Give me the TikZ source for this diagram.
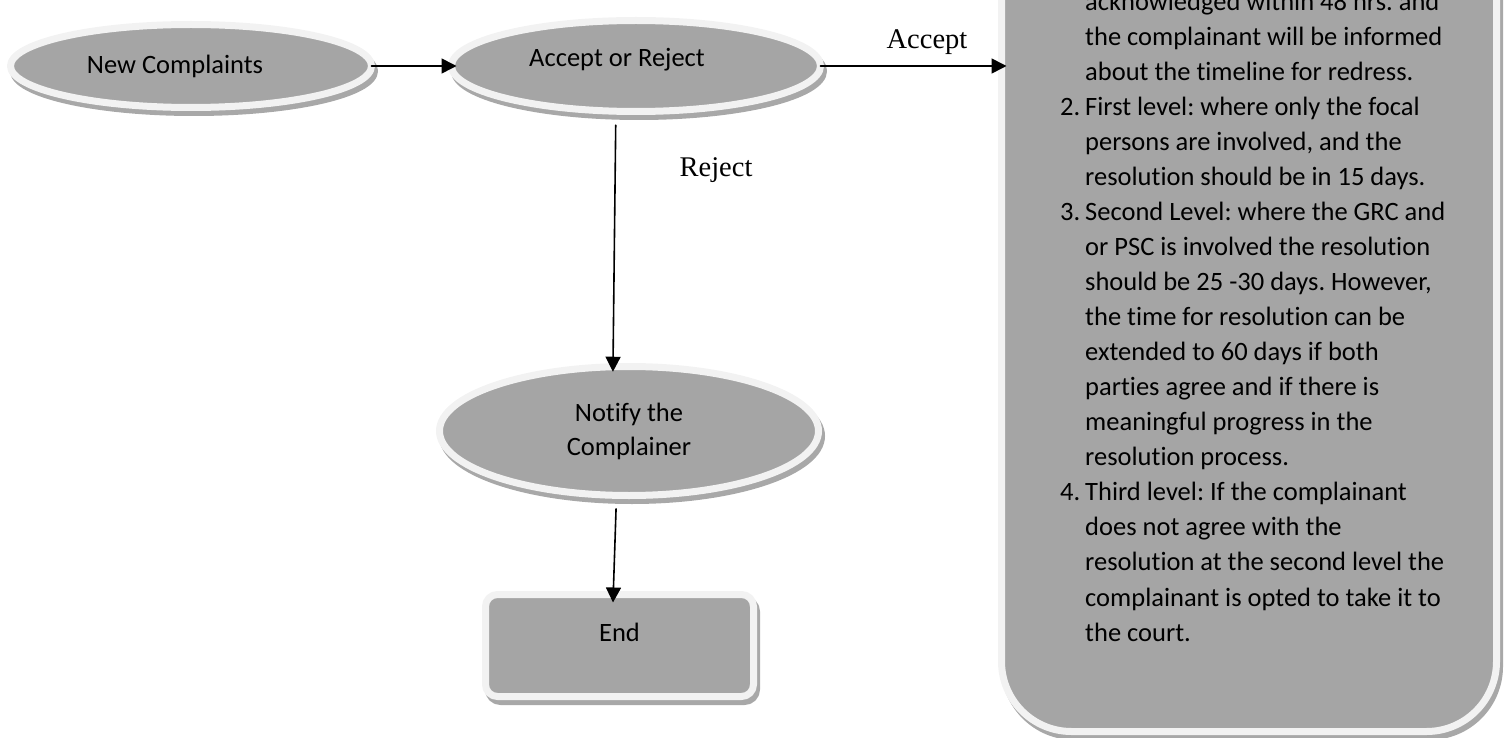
\documentclass[tikz,border=0pt]{standalone}
\usepackage{fontspec}
\setmainfont{Carlito}[Ligatures=NoCommon]
\newfontfamily\timesfont{Liberation Serif}
\usepackage{tikz}
\usetikzlibrary{shapes.geometric}
\usetikzlibrary{shadows}
\usetikzlibrary{arrows.meta}
\definecolor{flgray}{rgb}{0.647,0.647,0.647}
\definecolor{rmgray}{rgb}{0.949,0.949,0.949}
\definecolor{shgray}{rgb}{0.66,0.66,0.66}
\tikzstyle{every node}=[font=\fontsize{26.5}{34}\selectfont]
\tikzstyle{bevel}=[draw=rmgray,line width=7pt,fill=flgray,outer sep=0pt,inner sep=0pt,drop shadow={shadow xshift=3pt,shadow yshift=-5pt,fill=shgray,draw=shgray,line width=7pt,opacity=1}]
\tikzstyle{oval}=[bevel,ellipse]
\tikzstyle{endbox}=[bevel,rectangle,rounded corners=12pt]
\tikzstyle{stepsbox}=[bevel,rectangle,rounded corners=70pt]
\tikzstyle{arrowlbl}=[font=\timesfont\fontsize{28.5}{34}\selectfont]
\tikzstyle{conn}=[->,line width=1.6pt,shorten >=-5pt]
\newcommand{\itemno}[1]{\llap{\makebox[25pt][l]{#1}}}
\frenchspacing

\begin{document}
\begin{tikzpicture}[line cap=round,line join=round,>={Triangle[length=15pt,width=15pt]},x=1.0pt,y=-1.0pt]
            \useasboundingbox (0,0) rectangle (1507,738);
            \clip (0,0) rectangle (1507,738);
            % flow shapes
            \node[oval,minimum width=361pt,minimum height=83pt] (new) at (191,66) {New Complaints\hspace*{32pt}};
            \node[oval,minimum width=369pt,minimum height=91pt,text depth=17pt] (accept) at (636,66) {Accept or Reject\hspace*{38pt}};
            \node[oval,minimum width=379pt,minimum height=129pt,align=center] (notify) at (629,431) {Notify the\\Complainer};
            \node[endbox,minimum width=268pt,minimum height=102pt,text depth=27pt] (end) at (619.5,645.5) {End};
            \node[stepsbox,minimum width=495pt,minimum height=851.5pt] (steps) at (1249,305.75) {};
            \node[anchor=north west,inner sep=0pt,align=left,font=\fontsize{26.5}{35.06}\selectfont] (stepstext) at (1085,-8.6) {acknowledged within 48 hrs. and\\
            the complainant will be informed\\
            about the timeline for redress.\\
            \itemno{2.}First level: where only the focal\\
            persons are involved, and the\\
            resolution should be in 15 days.\\
            \itemno{3.}Second Level: where the GRC and\\
            or PSC is involved the resolution\\
            should be 25 -30 days. However,\\
            the time for resolution can be\\
            extended to 60 days if both\\
            parties agree and if there is\\
            meaningful progress in the\\
            resolution process.\\
            \itemno{4.}Third level: If the complainant\\
            does not agree with the\\
            resolution at the second level the\\
            complainant is opted to take it to\\
            the court.};
            % connectors
            \draw[conn] (new.east) -- (accept.west);
            \draw[conn] (accept.east) -- (accept.east -| steps.west);
            \draw[conn,shorten <=14pt] (accept.246) -- (notify.104);
            \draw[conn,shorten <=13.5pt,shorten >=-8pt] (notify.259) -- (end.97);
            \node[arrowlbl] (acclbl) at (927,42) {Accept};
            \node[arrowlbl] (rejlbl) at (716,170) {Reject};
\end{tikzpicture}
\end{document}
